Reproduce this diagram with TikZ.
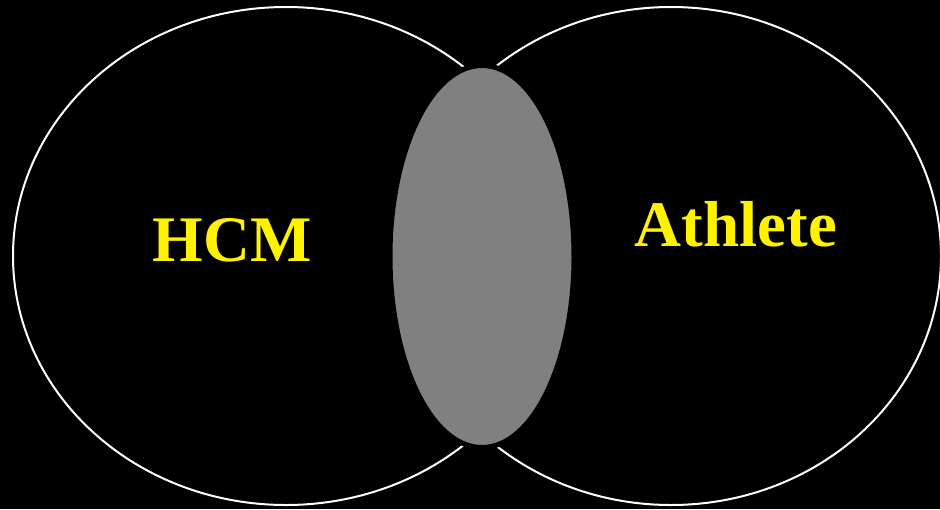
\documentclass[tikz,border=0pt]{standalone}
\usepackage{fontspec}
\setmainfont{Liberation Serif}
\usetikzlibrary{shapes.geometric}
\begin{document}
\begin{tikzpicture}[x=1pt,y=-1pt,
  setring/.style={ellipse, draw=white, line width=2pt, inner sep=0pt},
  overlap/.style={ellipse, fill={rgb,255:red,128;green,128;blue,128}, draw=black, line width=5pt, inner sep=0pt},
  setlabel/.style={text=yellow, font=\fontsize{65}{70}\selectfont\bfseries, inner sep=0pt, anchor=base}]
\fill[black] (0,0) rectangle (940,509);
\useasboundingbox (0,0) rectangle (940,509);
\node[setring, minimum width=546pt, minimum height=498pt] (hcm) at (286,256) {};
\node[setring, minimum width=540pt, minimum height=498pt] (ath) at (671,256) {};
\node[overlap, minimum width=184pt, minimum height=382pt] (both) at (482,256.5) {};
\node[setlabel] (lhcm) at (232,261) {HCM};
\node[setlabel] (lath) at (736,246) {Athlete};
\end{tikzpicture}
\end{document}
